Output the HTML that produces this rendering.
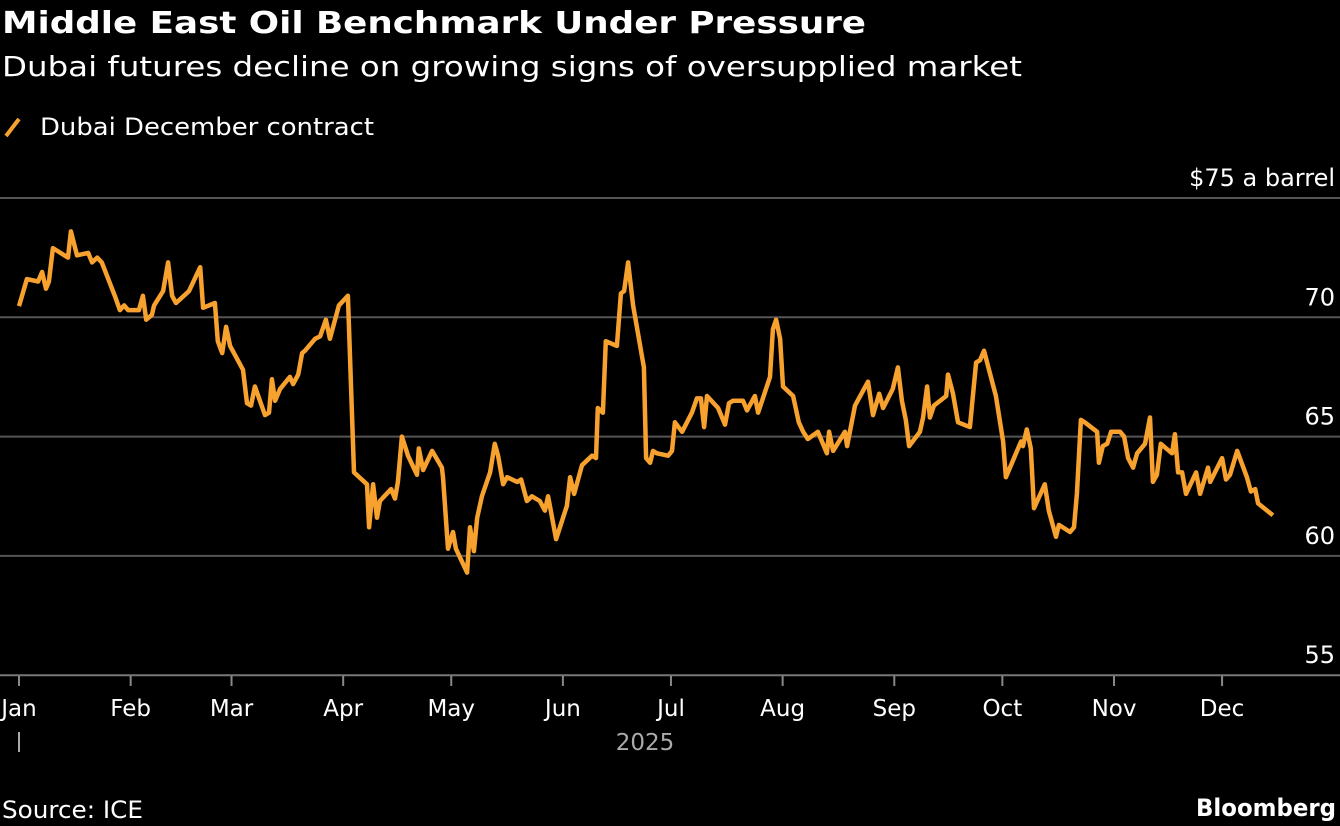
<!DOCTYPE html>
<html><head><meta charset="utf-8"><style>
body{margin:0;background:#000;width:1340px;height:826px;overflow:hidden;font-family:"DejaVu Sans",sans-serif;color:#fff}
</style></head><body>
<svg width="1340" height="826" xmlns="http://www.w3.org/2000/svg" style="position:absolute;left:0;top:0" font-family="DejaVu Sans, sans-serif">
<text x="2" y="33" font-size="30" font-weight="bold" fill="#fff" textLength="864" lengthAdjust="spacingAndGlyphs">Middle East Oil Benchmark Under Pressure</text>
<text x="2" y="76" font-size="28" fill="#fff" textLength="1020" lengthAdjust="spacingAndGlyphs">Dubai futures decline on growing signs of oversupplied market</text>
<line x1="6" y1="136" x2="19" y2="119" stroke="#f7a12e" stroke-width="4"/>
<text x="40" y="135" font-size="24" fill="#fff" textLength="334" lengthAdjust="spacingAndGlyphs">Dubai December contract</text>
<g id="grid"></g><g id="xaxis"></g>
<path id="series" fill="none" stroke="#f7a12e" stroke-width="4.5" stroke-linejoin="round"/>
<text x="2" y="818" font-size="24" fill="#fff" textLength="141" lengthAdjust="spacingAndGlyphs">Source: ICE</text>
<text x="1196" y="816" font-size="24" font-weight="bold" fill="#fff" textLength="140" lengthAdjust="spacingAndGlyphs">Bloomberg</text>
</svg>
<script>
const yTicks=[75,70,65,60,55];
const months=["Jan","Feb","Mar","Apr","May","Jun","Jul","Aug","Sep","Oct","Nov","Dec"];
const monthDays=[0,31,59,90,120,151,181,212,243,273,304,334];
const days=[0,2.2,5.3,6.4,7.5,8.3,9.4,13.6,14.4,16.1,19.2,20.3,21.7,23.0,26.6,28.0,29.2,30.3,33.3,34.4,35.3,36.9,37.5,40.0,41.4,42.5,43.6,47.2,50.3,51.1,54.4,55.2,56.4,57.5,58.6,62.2,63.3,64.4,65.5,68.3,69.4,70.2,71.1,72.5,75.2,76.1,77.5,78.6,79.4,82.2,83.6,85.2,86.3,88.8,91.3,93.0,96.6,97.2,98.3,99.4,100.2,103.3,104.4,105.2,106.3,108.0,110.5,111.0,112.2,114.7,117.4,117.7,119.1,120.5,121.3,124.4,125.2,126.3,127.2,128.5,130.8,132.1,133.0,134.4,135.5,138.3,139.4,141.0,142.4,144.6,146.0,146.9,149.1,152.1,153.0,154.1,156.3,159.1,160.2,160.7,162.1,162.9,166.0,167.1,168.0,169.1,170.5,173.5,174.1,175.2,176.0,177.1,180.2,181.3,182.1,184.1,186.8,188.2,189.3,190.2,191.0,194.1,196.0,197.1,198.2,201.0,202.1,204.3,205.2,208.5,209.3,210.2,211.3,212.1,214.9,216.5,217.7,219.0,221.8,224.3,224.9,226.0,229.3,229.9,232.1,235.7,237.1,238.8,239.9,242.6,244.0,245.1,246.2,247.1,250.1,251.0,252.1,252.9,254.0,257.4,257.9,259.3,260.7,264.0,265.7,266.8,267.9,271.2,273.2,274.0,278.2,278.7,279.8,280.9,281.8,284.8,285.9,287.9,288.7,291.8,292.9,293.7,294.8,295.9,299.3,299.8,300.9,302.1,303.2,305.7,306.8,307.9,309.3,310.4,312.6,314.0,314.8,315.9,317.0,320.1,320.9,321.8,322.9,324.0,326.8,327.9,330.1,330.7,334.0,335.1,336.2,338.2,340.9,342.0,343.2,344.0,348.1];
const prices=[70.47,71.6,71.5,71.9,71.2,71.5,72.9,72.5,73.6,72.6,72.7,72.3,72.5,72.3,70.9,70.3,70.5,70.3,70.3,70.9,69.9,70.1,70.5,71.1,72.3,70.9,70.6,71.1,72.1,70.4,70.6,69.0,68.5,69.6,68.8,67.8,66.4,66.3,67.1,65.9,66.0,67.4,66.5,67.0,67.5,67.2,67.6,68.5,68.6,69.1,69.2,69.9,69.1,70.5,70.9,63.5,63.0,61.2,63.0,61.6,62.3,62.8,62.4,63.1,65.0,64.2,63.4,64.5,63.6,64.4,63.7,63.3,60.3,61.0,60.3,59.3,61.2,60.2,61.6,62.5,63.5,64.7,64.2,63.0,63.3,63.1,63.2,62.3,62.5,62.3,61.9,62.5,60.7,62.1,63.3,62.6,63.8,64.2,64.1,66.2,66.0,69.0,68.8,71.0,71.1,72.3,70.5,67.9,64.1,63.9,64.4,64.3,64.2,64.4,65.6,65.2,66.0,66.6,66.6,65.4,66.7,66.2,65.5,66.4,66.5,66.5,66.1,66.7,66.0,67.5,69.5,69.9,69.1,67.1,66.7,65.6,65.2,64.9,65.2,64.3,65.2,64.4,65.2,64.6,66.3,67.3,65.9,66.8,66.2,67.0,67.9,66.5,65.7,64.6,65.2,65.8,67.1,65.8,66.3,66.7,67.6,66.8,65.6,65.4,68.1,68.2,68.6,66.7,64.8,63.3,64.8,64.6,65.3,64.5,62.0,63.0,61.9,60.8,61.3,61.0,61.2,62.6,65.7,65.6,65.2,63.9,64.6,64.7,65.2,65.2,65.0,64.1,63.7,64.3,64.7,65.8,63.1,63.4,64.7,64.3,65.1,63.5,63.5,62.6,63.5,62.6,63.7,63.1,64.1,63.2,63.4,64.4,63.3,62.7,62.8,62.2,61.7];
const NS="http://www.w3.org/2000/svg";
const xS=d=>19+d*3.602;
const yS=v=>198+(75-v)*23.86;
const grid=document.getElementById('grid');
yTicks.forEach((t,i)=>{
 const l=document.createElementNS(NS,'line');
 
 
 l.setAttribute('x1',0);l.setAttribute('x2',1340);
 l.setAttribute('y1',yS(t));l.setAttribute('y2',yS(t));
 l.setAttribute('stroke',t===55?'#777':'#555');l.setAttribute('stroke-width',2);
 grid.appendChild(l);
 const tx=document.createElementNS(NS,'text');
 
 
 tx.setAttribute('x',1335);tx.setAttribute('y',yS(t)-12);
 tx.setAttribute('text-anchor','end');tx.setAttribute('font-size','24');tx.setAttribute('fill','#fff');
 tx.textContent=i===0?'$75 a barrel':String(t);
 grid.appendChild(tx);
});
const xa=document.getElementById('xaxis');
months.forEach((m,i)=>{
 const x=xS(monthDays[i]);
 const l=document.createElementNS(NS,'line');
 
 
 l.setAttribute('x1',x);l.setAttribute('x2',x);l.setAttribute('y1',676);l.setAttribute('y2',686);
 l.setAttribute('stroke','#888');l.setAttribute('stroke-width',2);
 xa.appendChild(l);
 const tx=document.createElementNS(NS,'text');
 
 
 tx.setAttribute('x',x);tx.setAttribute('y',716);tx.setAttribute('text-anchor','middle');
 tx.setAttribute('font-size','23');tx.setAttribute('fill','#fff');
 tx.textContent=m;xa.appendChild(tx);
});
const yr=document.createElementNS(NS,'text');


yr.setAttribute('x',645);yr.setAttribute('y',750);yr.setAttribute('text-anchor','middle');
yr.setAttribute('font-size','23');yr.setAttribute('fill','#aaa');
yr.textContent='2025';xa.appendChild(yr);
const yt=document.createElementNS(NS,'line');


yt.setAttribute('x1',19);yt.setAttribute('x2',19);yt.setAttribute('y1',732);yt.setAttribute('y2',752);
yt.setAttribute('stroke','#aaa');yt.setAttribute('stroke-width',2);xa.appendChild(yt);
document.getElementById('series').setAttribute('d',days.map((d,i)=>(i?'L':'M')+xS(d).toFixed(1)+','+yS(prices[i]).toFixed(1)).join(''));
</script>
</body></html>
